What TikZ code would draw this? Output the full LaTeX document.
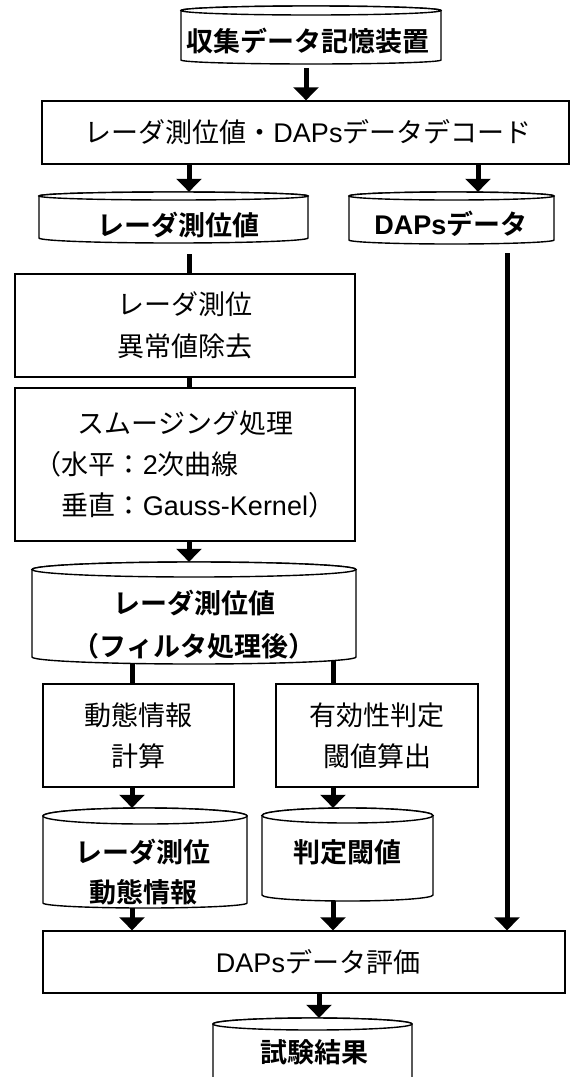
\documentclass[tikz,border=0pt]{standalone}
\usepackage{fontspec}
\setmainfont{Liberation Sans}
\newfontfamily\jp{Noto Sans CJK JP}[BoldFont={Noto Sans CJK JP Bold}]
\usetikzlibrary{arrows.meta,backgrounds}
\newcommand\J[1]{{\jp #1}}
% #1 name, #2 x1, #3 x2, #4 y top, #5 y sides bottom, #6 top ry, #7 bottom ry
\newcommand\cylshape[7]{%
  \pgfmathsetmacro\cylcx{(#2+#3)/2}%
  \pgfmathsetmacro\cylrx{(#3-#2)/2}%
  \pgfmathsetmacro\cylcy{#4+#6}%
  \pgfmathsetmacro\cylw{#3-#2}%
  \pgfmathsetmacro\cylh{#5+#7-#4}%
  \pgfmathsetmacro\cylmy{(#4+#5+#7)/2}%
  \path[cylline] (#2,\cylcy) -- (#2,#5)
     arc[start angle=180,end angle=360,x radius=\cylrx pt,y radius=#7pt]
     -- (#3,\cylcy)
     arc[start angle=0,end angle=180,x radius=\cylrx pt,y radius=#6pt] -- cycle;
  \draw[cylline] (\cylcx,\cylcy) ellipse[x radius=\cylrx pt,y radius=#6pt];
  \node[cylnode,minimum width=\cylw pt,minimum height=\cylh pt] (#1) at (\cylcx,\cylmy) {};
}
\begin{document}
\begin{tikzpicture}[x=1pt,y=-1pt,
  cylline/.style={line width=1.4pt,draw=black,fill=white},
  cylnode/.style={rectangle,inner sep=0pt,draw=none},
  boxnode/.style={rectangle,draw=black,line width=1.4pt,fill=white,inner sep=0pt,align=center,font=\fontsize{27}{42}\selectfont},
  txt/.style={inner sep=0pt,align=center,font=\fontsize{27}{42}\selectfont},
  btxt/.style={inner sep=0pt,align=center,font=\fontsize{27}{42}\selectfont\bfseries},
  conn/.style={line width=5pt,draw=black},
  arr/.style={conn,-{Triangle[width=25pt,length=13pt]}},
]
\useasboundingbox (0,0) rectangle (572,1077);
\clip (0,0) rectangle (572,1077);

% cylinders
\cylshape{store}{181}{441}{6}{60}{4.5}{4}
\node[btxt] (store-t) at (308,41) {\J{収集データ記憶装置}};

\cylshape{radar}{39}{308}{192}{238}{4}{5}
\node[btxt] (radar-t) at (178,225) {\J{レーダ測位値}};

\cylshape{daps}{349}{554}{192}{240}{4}{4}
\node[btxt] (daps-t) at (451,224) {DAPs\J{データ}};

\cylshape{filt}{32}{356}{562}{657}{7.5}{7}
\node[btxt,font=\fontsize{27}{43}\selectfont\bfseries] (filt-t) at (194,624.5) {\J{レーダ測位値}\\\J{（フィルタ処理後）}};

\cylshape{dyn}{43}{247}{808}{903}{8}{5}
\node[btxt,font=\fontsize{27}{40}\selectfont\bfseries] (dyn-t) at (143,872) {\J{レーダ測位}\\\J{動態情報}};

\cylshape{thr}{262}{433}{808}{895}{7.5}{6}
\node[btxt] (thr-t) at (347,852) {\J{判定閾値}};

\cylshape{res}{213}{412}{1018}{1095}{6}{6}
\node[btxt] (res-t) at (314,1052) {\J{試験結果}};

% boxes
\node[boxnode,minimum width=527pt,minimum height=63pt] (dec) at (305.5,132.5)
  {\hspace*{5pt}\J{レーダ測位値・}DAPs\J{データデコード}};
\node[boxnode,minimum width=340pt,minimum height=103pt] (outl) at (185,325.5)
  {\J{レーダ測位}\\\J{異常値除去}};
\node[boxnode,minimum width=340pt,minimum height=153pt,align=left,font=\fontsize{27}{41}\selectfont] (smooth) at (185,464.5)
  {\hspace*{43pt}\J{スムージング処理}\\\J{（水平：}2\J{次曲線}\\\J{　垂直：}Gauss-Kernel\J{）}};
\node[boxnode,minimum width=191pt,minimum height=103pt,font=\fontsize{27}{41}\selectfont] (dynbox) at (138.5,735.5)
  {\J{動態情報}\\\J{計算}};
\node[boxnode,minimum width=202pt,minimum height=103pt,font=\fontsize{27}{41}\selectfont] (valbox) at (377,735.5)
  {\J{有効性判定}\\\J{閾値算出}};
\node[boxnode,minimum width=522pt,minimum height=62pt] (eval) at (304,962)
  {\hspace*{28pt}DAPs\J{データ評価}};

% column coordinates
\coordinate (cG) at (306,0);
\coordinate (cA) at (189,0);
\coordinate (cB) at (478,0);
\coordinate (cC) at (507,0);
\coordinate (cD) at (132,0);
\coordinate (cE) at (333,0);
\coordinate (cF) at (319,0);

\begin{scope}[on background layer]
\draw[arr,shorten <=4pt] (store.south -| cG) -- (dec.north -| cG);
\draw[arr] (dec.south -| cA) -- (radar.north -| cA);
\draw[arr] (dec.south -| cB) -- (daps.north -| cB);
\draw[conn,shorten <=11pt] (radar.south -| cA) -- (outl.north -| cA);
\draw[conn] (outl.south -| cA) -- (smooth.north -| cA);
\draw[arr] (smooth.south -| cA) -- (filt.north -| cA);
\draw[conn] (filt.center -| cD) -- (dynbox.north -| cD);
\draw[conn] (filt.center -| cE) -- (valbox.north -| cE);
\draw[arr] (dynbox.south -| cD) -- (dyn.north -| cD);
\draw[arr] (valbox.south -| cE) -- (thr.north -| cE);
\draw[arr] (dyn.center -| cD) -- (eval.north -| cD);
\draw[arr] (thr.center -| cE) -- (eval.north -| cE);
\draw[arr,shorten <=9pt] (daps.south -| cC) -- (eval.north -| cC);
\draw[arr] (eval.south -| cF) -- (res.north -| cF);
\end{scope}
\end{tikzpicture}
\end{document}
